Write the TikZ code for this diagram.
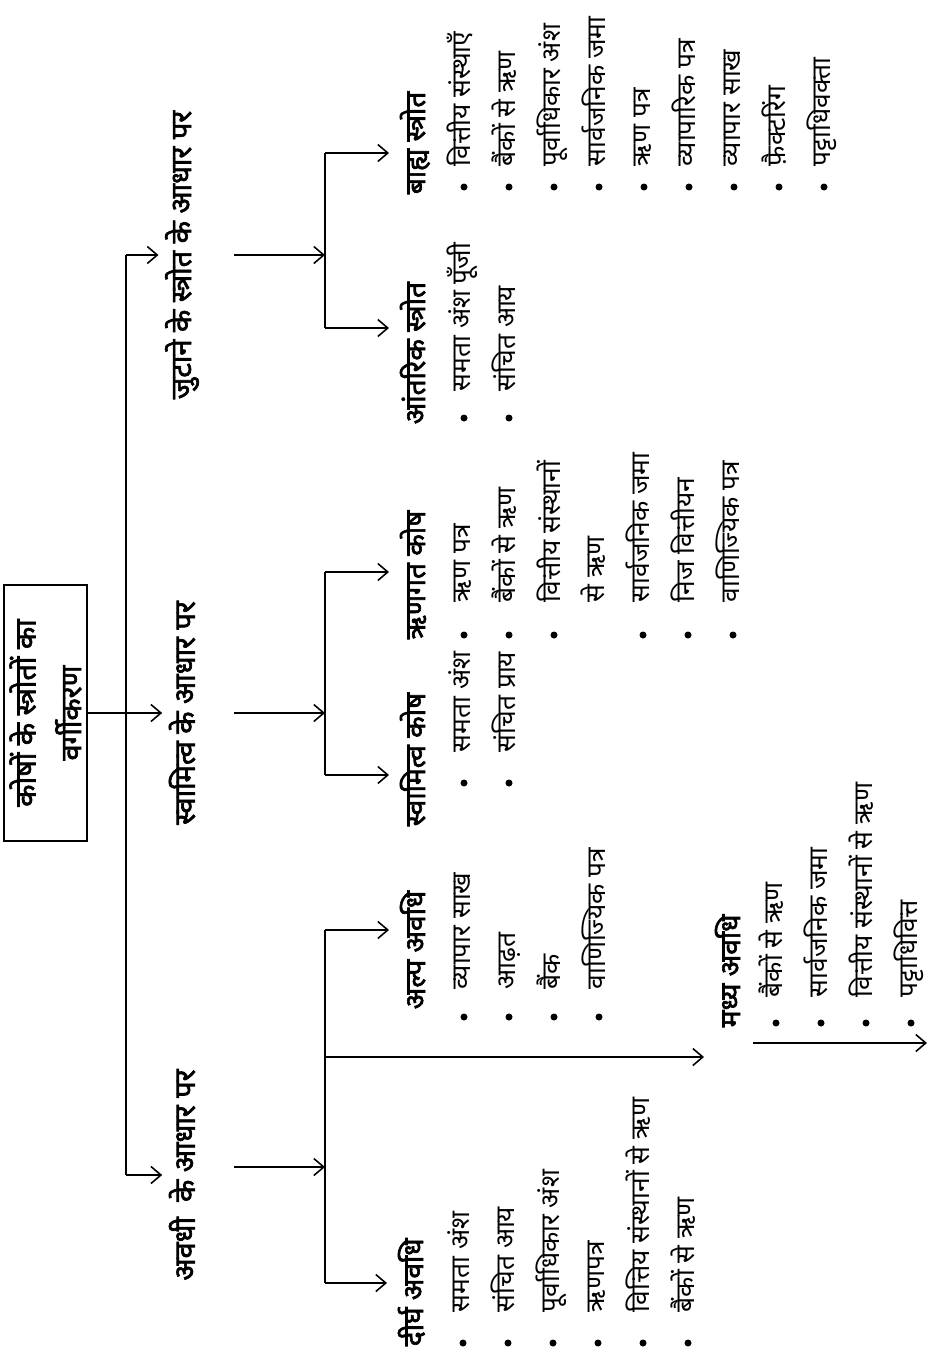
\documentclass[tikz,border=0pt]{standalone}
\usepackage{fontspec}
\setmainfont{Noto Sans}[Script=Devanagari,BoldFont={Noto Sans},BoldFeatures={FakeBold=2.2}]
\usetikzlibrary{arrows.meta,calc}

\begin{document}
\begin{tikzpicture}[x=0.02cm,y=-0.02cm,line width=0.9pt,
  arr/.style={-{Straight Barb[length=2mm,width=3.4mm]}},
  rootbox/.style={draw,line width=1.2pt,rotate=90,align=center,minimum width=5.12cm,minimum height=1.66cm,font=\fontsize{16.5}{26}\selectfont\bfseries},
  lvlone/.style={rotate=90,font=\fontsize{16.5}{18}\selectfont\bfseries},
  head/.style={rotate=90,anchor=base west,inner sep=0pt,font=\fontsize{16}{18}\selectfont\bfseries},
  entry/.style={rotate=90,anchor=base west,inner sep=0pt,font=\fontsize{15}{17}\selectfont},
  dot/.style={circle,fill,inner sep=0pt,minimum size=0.14cm}]
  \useasboundingbox (0,0) rectangle (928,1355);

  % root and first level
  \node[rootbox] (root) at (45.5,713) {कोषों के स्त्रोतों का\\वर्गीकरण};
  \coordinate (m1) at (126,255);
  \coordinate (m2) at (126,713);
  \coordinate (m3) at (126,1175);
  \node[lvlone] (src) at (182,255) {जुटाने के स्त्रोत के आधार पर};
  \node[lvlone] (own) at (182,713) {स्वामित्व के आधार पर};
  \node[lvlone] (per) at (182,1175) {अवधी~~के आधार पर};
  \draw (root.south) -- (m2);
  \draw (m1) -- (m3);
  \draw[arr] (m1) -- (src.north);
  \draw[arr] (m2) -- (own.north);
  \draw[arr] (m3) -- (per.north);

  % second level joints
  \coordinate (s0) at (234,255);  \coordinate (s1) at (325,255);
  \coordinate (o0) at (234,713);  \coordinate (o1) at (325,713);
  \coordinate (p0) at (234,1167); \coordinate (p1) at (325,1167);
  \draw[arr] (s0) -- (s1);
  \draw[arr] (o0) -- (o1);
  \draw[arr] (p0) -- (p1);
  \coordinate (a1) at (325,153);  \coordinate (a2) at (325,328);
  \coordinate (b1) at (325,572);  \coordinate (b2) at (325,775);
  \coordinate (c1) at (325,930);  \coordinate (c2) at (325,1057); \coordinate (c3) at (325,1283);
  \draw (a1) -- (a2);
  \draw (b1) -- (b2);
  \draw (c1) -- (c3);

  % headings
  \node[head] (ext) at (425,195) {बाह्य स्त्रोत};
  \node[head] (int) at (425,425) {आंतरिक स्त्रोत};
  \node[head] (debt) at (425,640) {ऋणगत कोष};
  \node[head] (eq) at (425,827) {स्वामित्व कोष};
  \node[head] (short) at (425,1010) {अल्प अवधि};
  \node[head] (mid) at (740,1028) {मध्य अवधि};
  \node[head] (long) at (423,1347) {दीर्घ अवधि};
  \draw[arr,shorten >=0.2cm] (a1) -- (a1 -| ext.north);
  \draw[arr,shorten >=0.2cm] (a2) -- (a2 -| int.north);
  \draw[arr,shorten >=0.2cm] (b1) -- (b1 -| debt.north);
  \draw[arr,shorten >=0.2cm] (b2) -- (b2 -| eq.north);
  \draw[arr,shorten >=0.2cm] (c1) -- (c1 -| short.north);
  \draw[arr,shorten >=0.2cm] (c2) -- (c2 -| mid.north);
  \draw[arr,shorten >=0.2cm] (c3) -- (c3 -| long.north);

  % lists
  \foreach \txt [count=\i from 0] in {वित्तीय संस्थाएँ,बैंकों से ऋण,पूर्वाधिकार अंश,सार्वजनिक जमा,ऋण पत्र,व्यापारिक पत्र,व्यापार साख,फ़ैक्टरिंग,पट्टाधिवक्ता}{
    \node[dot] (extd\i) at ({464+45*\i},187) {};
    \node[entry] (ext\i) at ({470+45*\i},167) {\txt};
  }
  \foreach \txt [count=\i from 0] in {समता अंश पूँजी,संचित आय}{
    \node[dot] (intd\i) at ({464+45*\i},418) {};
    \node[entry] (int\i) at ({470+45*\i},392) {\txt};
  }
  \foreach \txt [count=\i from 0] in {ऋण पत्र,बैंकों से ऋण,वित्तीय संस्थानों}{
    \node[dot] (debtd\i) at ({464+45*\i},635) {};
    \node[entry] (debt\i) at ({470+45*\i},603) {\txt};
  }
  \node[entry] (debtx) at (604,603) {से ऋण};
  \foreach \txt [count=\i from 0] in {सार्वजनिक जमा,निज वित्तीयन,वाणिज्यिक पत्र}{
    \node[dot] (debte\i) at ({643+45*\i},635) {};
    \node[entry] (debty\i) at ({649+45*\i},603) {\txt};
  }
  \foreach \txt [count=\i from 0] in {समता अंश,संचित प्राय}{
    \node[dot] (eqd\i) at ({464+45*\i},783) {};
    \node[entry] (eq\i) at ({470+45*\i},753) {\txt};
  }
  \foreach \txt [count=\i from 0] in {व्यापार साख,आढ़त,बैंक,वाणिज्यिक पत्र}{
    \node[dot] (shortd\i) at ({464+45*\i},1017) {};
    \node[entry] (short\i) at ({470+45*\i},990) {\txt};
  }
  \foreach \txt [count=\i from 0] in {समता अंश,संचित आय,पूर्वाधिकार अंश,ऋणपत्र,वित्तिय संस्थानों से ऋण,बैंकों से ऋण}{
    \node[dot] (longd\i) at ({463+45*\i},1343) {};
    \node[entry] (long\i) at ({469+45*\i},1313) {\txt};
  }
  \foreach \txt [count=\i from 0] in {बैंकों से ऋण,सार्वजनिक जमा,वित्तीय संस्थानों से ऋण,पट्टाधिवित्त}{
    \node[dot] (midd\i) at ({776+45*\i},1023) {};
    \node[entry] (mid\i) at ({782+45*\i},998) {\txt};
  }
  \coordinate (q0) at (753,1043);
  \coordinate (q1) at (927,1043);
  \draw[arr] (q0) -- (q1);
\end{tikzpicture}
\end{document}
